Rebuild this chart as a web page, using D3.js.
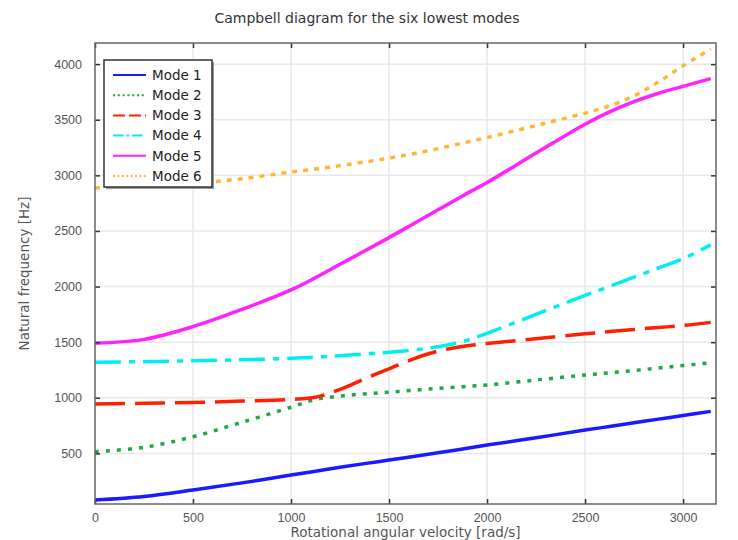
<!DOCTYPE html>
<html lang="en">
<head>
    <meta charset="UTF-8">
    <title>Campbell diagram</title>
    <script src="https://d3js.org/d3.v7.min.js"></script>
    <style>
        body { margin: 0; background: #fff; }
        svg { font-family: "DejaVu Sans", sans-serif; }
    </style>
</head>
<body>
<div id="chart"></div>
<script>
// rotational angular velocity [rad/s]
var omega = [0, 250, 500, 750, 1000, 1125, 1250, 1375, 1500, 1625, 1750, 1875, 2000, 2250, 2500, 2625, 2750, 2875, 3000, 3141];

// natural frequencies [Hz]
var mode1 = [80, 112, 170, 235, 305, 340, 375, 408, 440, 472, 505, 540, 575, 640, 710, 742, 775, 808, 840, 878];
var mode2 = [515, 555, 650, 780, 915, 985, 1015, 1035, 1050, 1068, 1085, 1100, 1115, 1160, 1205, 1225, 1245, 1268, 1290, 1315];
var mode3 = [945, 950, 958, 970, 985, 1005, 1075, 1170, 1260, 1350, 1420, 1462, 1488, 1530, 1575, 1595, 1615, 1632, 1650, 1678];
var mode4 = [1320, 1325, 1333, 1342, 1355, 1365, 1378, 1393, 1410, 1430, 1458, 1505, 1580, 1750, 1920, 2002, 2085, 2168, 2250, 2375];
var mode5 = [1490, 1525, 1640, 1795, 1970, 2080, 2200, 2320, 2440, 2565, 2690, 2815, 2935, 3200, 3460, 3570, 3662, 3738, 3800, 3870];
var mode6 = [2887, 2903, 2927, 2970, 3030, 3058, 3088, 3120, 3155, 3195, 3240, 3290, 3340, 3448, 3560, 3625, 3715, 3840, 3985, 4135];

var modeNames = ["Mode 1", "Mode 2", "Mode 3", "Mode 4", "Mode 5", "Mode 6"];
var modeColors = ["#1a1aff", "#1ea84a", "#ff2000", "#00eeee", "#ff22ff", "#ffb733"];
var modeDashes = [null, "4,7", "30,10", "26,8,6,8", null, "5,6"];

var xTicks = [0, 500, 1000, 1500, 2000, 2500, 3000];
var yTicks = [500, 1000, 1500, 2000, 2500, 3000, 3500, 4000];

var modes = [mode1, mode2, mode3, mode4, mode5, mode6];

var width = 738, height = 540;
var plotL = 95, plotR = 716, plotT = 43, plotB = 504;

var svg = d3.select("#chart").append("svg")
    .attr("width", width)
    .attr("height", height);

svg.append("rect").attr("width", width).attr("height", height).attr("fill", "#fff");

var x = d3.scaleLinear().domain([0, 3168]).range([plotL, plotR]);
var y = d3.scaleLinear().domain([45, 4190]).range([plotB, plotT]);

// grid
svg.append("g").selectAll("line")
    .data(xTicks.slice(1))
    .enter().append("line")
    .attr("x1", d => x(d)).attr("x2", d => x(d))
    .attr("y1", plotT).attr("y2", plotB)
    .attr("stroke", "#e8e8e8").attr("stroke-width", 1.5);

svg.append("g").selectAll("line")
    .data(yTicks)
    .enter().append("line")
    .attr("x1", plotL).attr("x2", plotR)
    .attr("y1", d => y(d)).attr("y2", d => y(d))
    .attr("stroke", "#e8e8e8").attr("stroke-width", 1.5);

// curves
var line = d3.line()
    .x((d, i) => x(omega[i]))
    .y(d => y(d))
    .curve(d3.curveCatmullRom.alpha(0.5));

svg.append("g").selectAll("path")
    .data(modes)
    .enter().append("path")
    .attr("d", d => line(d))
    .attr("fill", "none")
    .attr("stroke", (d, i) => modeColors[i])
    .attr("stroke-width", 3.5)
    .attr("stroke-dasharray", (d, i) => modeDashes[i]);

// axes (ticks pointing inward on all four sides)
var axB = svg.append("g").attr("transform", `translate(0,${plotB})`)
    .call(d3.axisBottom(x).tickValues(xTicks).tickSize(-5).tickPadding(9).tickFormat(d3.format("d")));
var axT = svg.append("g").attr("transform", `translate(0,${plotT})`)
    .call(d3.axisTop(x).tickValues(xTicks).tickSize(-5).tickFormat(""));
var axL = svg.append("g").attr("transform", `translate(${plotL},0)`)
    .call(d3.axisLeft(y).tickValues(yTicks).tickSize(-5).tickPadding(13).tickFormat(d3.format("d")));
var axR = svg.append("g").attr("transform", `translate(${plotR},0)`)
    .call(d3.axisRight(y).tickValues(yTicks).tickSize(-5).tickFormat(""));

[axB, axT, axL, axR].forEach(a => {
    a.select(".domain").remove();
    a.selectAll(".tick line").attr("stroke", "#333").attr("stroke-width", 1.5);
    a.selectAll(".tick text").attr("fill", "#555").style("font-size", "12.5px");
});

svg.append("rect")
    .attr("x", plotL).attr("y", plotT)
    .attr("width", plotR - plotL).attr("height", plotB - plotT)
    .attr("fill", "none").attr("stroke", "#666").attr("stroke-width", 1.5);

// titles
svg.append("text")
    .attr("x", 367).attr("y", 23)
    .attr("text-anchor", "middle")
    .attr("fill", "#333")
    .style("font-size", "14px")
    .text("Campbell diagram for the six lowest modes");

svg.append("text")
    .attr("x", (plotL + plotR) / 2).attr("y", 537)
    .attr("text-anchor", "middle")
    .attr("fill", "#555")
    .style("font-size", "13.5px")
    .text("Rotational angular velocity [rad/s]");

svg.append("text")
    .attr("transform", `translate(29,${(plotT + plotB) / 2}) rotate(-90)`)
    .attr("text-anchor", "middle")
    .attr("fill", "#555")
    .style("font-size", "13.5px")
    .text("Natural frequency [Hz]");

// legend
var lg = svg.append("g");
lg.append("rect")
    .attr("x", 106).attr("y", 62).attr("width", 108).attr("height", 127)
    .attr("fill", "#999");
lg.append("rect")
    .attr("x", 104).attr("y", 60).attr("width", 108).attr("height", 127)
    .attr("fill", "#fff").attr("stroke", "#333").attr("stroke-width", 1.5);

var item = lg.selectAll("g.item")
    .data(modeNames)
    .enter().append("g")
    .attr("class", "item")
    .attr("transform", (d, i) => `translate(0,${75 + i * 20.2})`);

item.append("line")
    .attr("x1", 113).attr("x2", 146)
    .attr("stroke", (d, i) => modeColors[i])
    .attr("stroke-width", 2)
    .attr("stroke-dasharray", (d, i) => modeDashes[i] ? modeDashes[i].split(",").map(v => Math.max(2, v / 2.5)).join(",") : null);

item.append("text")
    .attr("x", 152).attr("dy", "0.35em")
    .attr("fill", "#222")
    .style("font-size", "13.5px")
    .text(d => d);
</script>
</body>
</html>
